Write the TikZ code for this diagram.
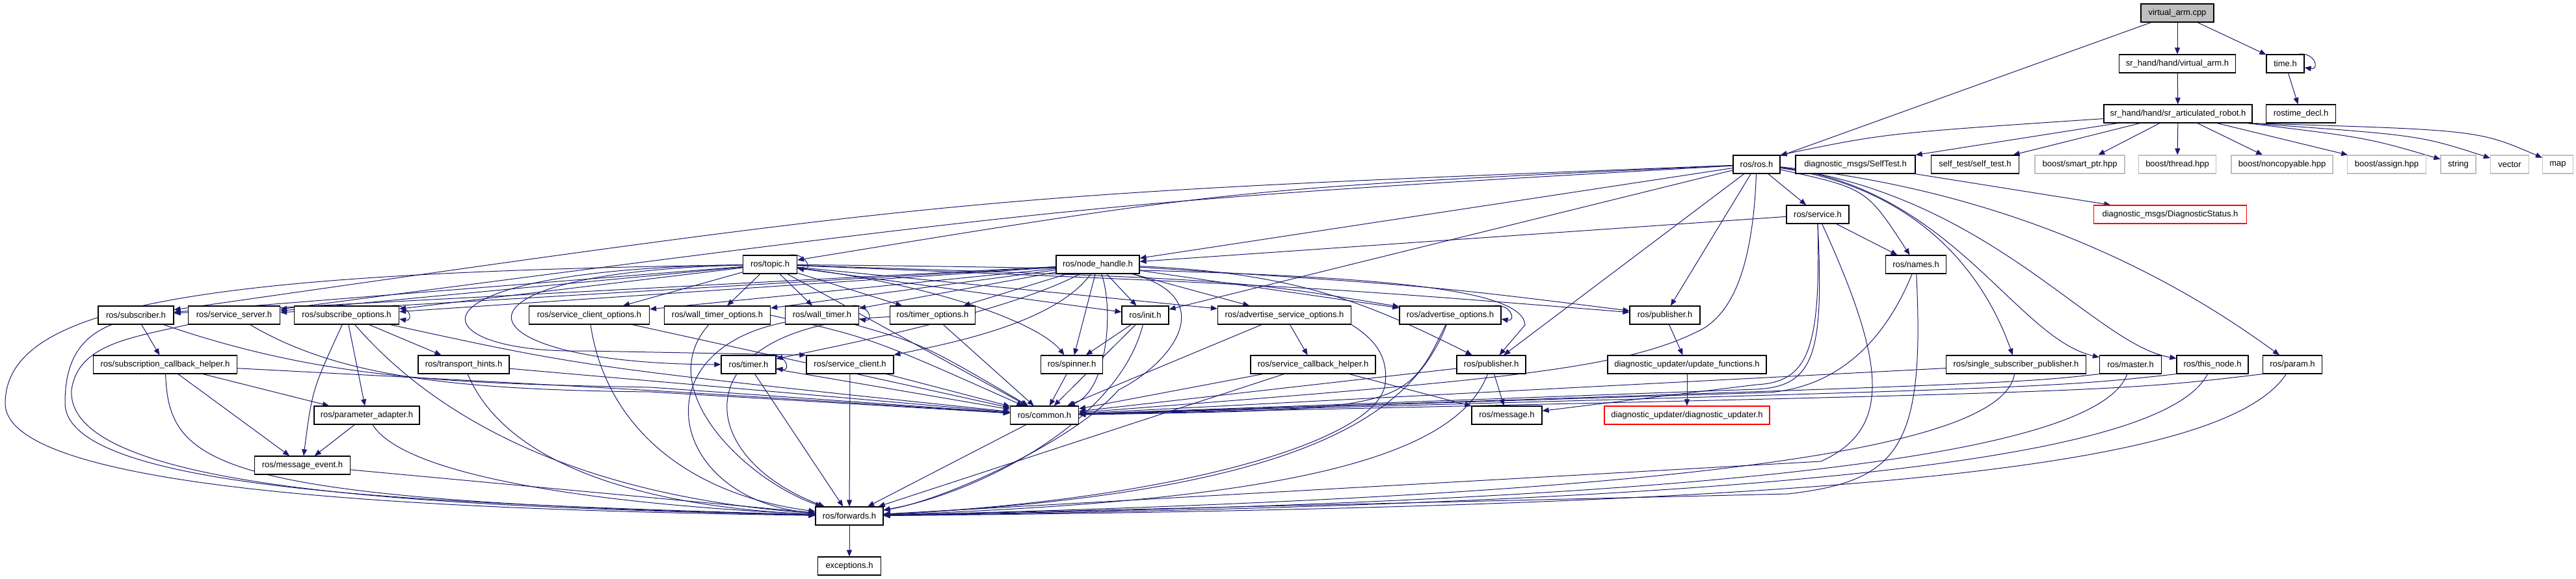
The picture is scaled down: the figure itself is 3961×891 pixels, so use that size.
\documentclass[tikz,border=0pt]{standalone}
\usepackage{fontspec}
\setmainfont{Liberation Sans}
\usetikzlibrary{arrows.meta}
\pgfdeclarelayer{edges}
\pgfsetlayers{edges,main}
\definecolor{edgec}{RGB}{25,25,112}
\definecolor{boxgray}{RGB}{191,191,191}
\definecolor{lightb}{RGB}{191,191,191}
\begin{document}
\begin{tikzpicture}[x=1pt,y=-1pt,
  nb/.style={draw=black, line width=1.2pt, fill=white, minimum height=28pt, inner sep=0pt, font=\fontsize{13}{15}\selectfont},
  gb/.style={nb, draw=lightb},
  rb/.style={nb, draw=red},
  e/.style={draw=edgec, line width=1pt, -{Triangle[length=10pt,width=8pt]}},
]
\useasboundingbox (0,0) rectangle (3961,891);
% nodes
\node[nb, minimum width=112pt, fill=boxgray] (vacpp) at (3348,20) {virtual\_arm.cpp};
\node[nb, minimum width=179pt] (vah) at (3348,98) {sr\_hand/hand/virtual\_arm.h};
\node[nb, minimum width=58pt] (timeh) at (3514,98) {time.h};
\node[nb, minimum width=228pt] (sar) at (3349,175) {sr\_hand/hand/sr\_articulated\_robot.h};
\node[nb, minimum width=107pt] (rostime) at (3538,175) {rostime\_decl.h};
\node[nb, minimum width=72pt] (rosh) at (2701,253) {ros/ros.h};
\node[nb, minimum width=184pt] (stmsg) at (2853,253) {diagnostic\_msgs/SelfTest.h};
\node[nb, minimum width=135pt] (selftest) at (3037,253) {self\_test/self\_test.h};
\node[gb, minimum width=138pt] (smartptr) at (3198,253) {boost/smart\_ptr.hpp};
\node[gb, minimum width=119pt] (thread) at (3348,253) {boost/thread.hpp};
\node[gb, minimum width=156pt] (noncopy) at (3509,253) {boost/noncopyable.hpp};
\node[gb, minimum width=121pt] (assign) at (3670,253) {boost/assign.hpp};
\node[gb, minimum width=54pt] (string) at (3780,253) {string};
\node[gb, minimum width=59pt] (vector) at (3859,253) {vector};
\node[gb, minimum width=47pt] (map) at (3933,253) {map};
\node[nb, minimum width=96pt] (service) at (2795,330) {ros/service.h};
\node[rb, minimum width=235pt] (diagstat) at (3337,330) {diagnostic\_msgs/DiagnosticStatus.h};
\node[nb, minimum width=83pt] (topic) at (1184,407) {ros/topic.h};
\node[nb, minimum width=128pt] (nh) at (1688,407) {ros/node\_handle.h};
\node[nb, minimum width=93pt] (names) at (2946,407) {ros/names.h};
\node[nb, minimum width=116pt] (subscriber) at (209,485) {ros/subscriber.h};
\node[nb, minimum width=141pt] (servserver) at (360,485) {ros/service\_server.h};
\node[nb, minimum width=161pt] (subopts) at (533,485) {ros/subscribe\_options.h};
\node[nb, minimum width=185pt] (scopts) at (906,485) {ros/service\_client\_options.h};
\node[nb, minimum width=163pt] (wtopts) at (1103,485) {ros/wall\_timer\_options.h};
\node[nb, minimum width=113pt] (walltimer) at (1264,485) {ros/wall\_timer.h};
\node[nb, minimum width=131pt] (topts) at (1434,485) {ros/timer\_options.h};
\node[nb, minimum width=72pt] (init) at (1761,485) {ros/init.h};
\node[nb, minimum width=205pt] (asopts) at (1975,485) {ros/advertise\_service\_options.h};
\node[nb, minimum width=156pt] (aopts) at (2230,485) {ros/advertise\_options.h};
\node[nb, minimum width=108pt] (pubup) at (2560,485) {ros/publisher.h};
\node[nb, minimum width=221pt] (sch) at (254,561) {ros/subscription\_callback\_helper.h};
\node[nb, minimum width=140pt] (thints) at (713,561) {ros/transport\_hints.h};
\node[nb, minimum width=84pt] (timer) at (1151,561) {ros/timer.h};
\node[nb, minimum width=134pt] (sclient) at (1307,561) {ros/service\_client.h};
\node[nb, minimum width=95pt] (spinner) at (1648,561) {ros/spinner.h};
\node[nb, minimum width=192pt] (svcch) at (2019,561) {ros/service\_callback\_helper.h};
\node[nb, minimum width=106pt] (publow) at (2293,561) {ros/publisher.h};
\node[nb, minimum width=244pt] (updfn) at (2594,561) {diagnostic\_updater/update\_functions.h};
\node[nb, minimum width=215pt] (ssp) at (3100,561) {ros/single\_subscriber\_publisher.h};
\node[nb, minimum width=95pt] (master) at (3276,561) {ros/master.h};
\node[nb, minimum width=110pt] (thisnode) at (3402,561) {ros/this\_node.h};
\node[nb, minimum width=91pt] (param) at (3525,561) {ros/param.h};
\node[nb, minimum width=162pt] (padapter) at (564,639) {ros/parameter\_adapter.h};
\node[nb, minimum width=105pt] (common) at (1606,639) {ros/common.h};
\node[nb, minimum width=108pt] (message) at (2317,639) {ros/message.h};
\node[rb, minimum width=254pt] (diagupd) at (2594,639) {diagnostic\_updater/diagnostic\_updater.h};
\node[nb, minimum width=147pt] (msgevent) at (465,716) {ros/message\_event.h};
\node[nb, minimum width=104pt] (forwards) at (1306,794) {ros/forwards.h};
\node[nb, minimum width=97pt] (exceptions) at (1306,871) {exceptions.h};

\begin{pgfonlayer}{edges}
\fill[white] (0,0) rectangle (3961,891);
% top part
\draw[e] (vacpp) -- (rosh);
\draw[e] (vacpp) -- (vah);
\draw[e] (vacpp) -- (timeh);
\draw[e] (vah) -- (sar);
\draw[e] ([xshift=-10pt]timeh.north east) .. controls +(26,-4) and +(24,4) .. ([yshift=-6pt]timeh.east);
\draw[e] (timeh) -- (rostime);
\draw[e] (sar) .. controls (2900,205) .. (rosh.north east);
\draw[e] (sar) -- (stmsg);
\draw[e] (sar) -- (selftest);
\draw[e] (sar) -- (smartptr);
\draw[e] (sar) -- (thread);
\draw[e] (sar) -- (noncopy);
\draw[e] (sar) -- (assign);
\draw[e] ([xshift=-8pt]sar.south east) .. controls (3640,212) .. (string);
\draw[e] ([xshift=-6pt]sar.south east) .. controls (3720,208) .. (vector);
\draw[e] ([xshift=-4pt]sar.south east) .. controls (3810,200) .. (map);
\draw[e] (stmsg) -- (diagstat);
% ros.h
\draw[e] (rosh) .. controls (1900,290) .. (topic);
\draw[e] (rosh) .. controls (1500,300) .. (subscriber);
\draw[e] (rosh) .. controls (1700,310) .. (servserver);
\draw[e] (rosh) -- (nh);
\draw[e] (rosh) -- (init);
\draw[e] (rosh) -- (pubup);
\draw[e] (rosh) -- (publow);
\draw[e] (rosh) .. controls (2695,420) and (2660,480) .. (2620,505) .. controls (2500,570) and (2300,585) .. (common);
\draw[e] (rosh) -- (service);
\draw[e] (rosh) .. controls (2870,290) .. (names);
\draw[e] (rosh) .. controls (2950,290) and (3050,420) .. (ssp);
\draw[e] (rosh) .. controls (3000,290) and (3100,520) .. (master);
\draw[e] (rosh) .. controls (3060,300) and (3220,530) .. (thisnode);
\draw[e] (rosh) .. controls (3150,300) and (3400,470) .. (param);
% service.h
\draw[e] (service) -- (nh);
\draw[e] (service) -- (names);
\draw[e] (service.south) .. controls (2800,540) and (2780,588) .. (2700,592) -- (message);
\draw[e] (service.south) .. controls (2805,545) and (2790,595) .. (2700,599) -- (common);
\draw[e] (service) .. controls (2900,560) and (2910,660) .. (2800,710) -- (forwards);
% names.h
\draw[e] (names) .. controls (2900,520) and (2830,595) .. (2720,604) -- (common);
\draw[e] (names) .. controls (2960,690) and (2920,740) .. (2750,760) -- (forwards);
% subscriber.h
\draw[e] (subscriber) -- (sch);
\draw[e] (subscriber) .. controls (500,585) and (700,590) .. (1000,596) -- (common);
\draw[e] (subscriber) .. controls (120,520) and (100,560) .. (100,620) .. controls (100,760) and (700,775) .. (forwards);
% service_server.h
\draw[e] (servserver.south west) .. controls (200,520) and (120,530) .. (110,600) .. controls (100,760) and (700,780) .. (forwards);
\draw[e] (servserver) .. controls (520,580) and (700,600) .. (1000,603) -- (common);
% subscribe_options.h
\draw[e] ([xshift=-12pt]subopts.north east) .. controls +(26,-4) and +(24,4) .. ([yshift=-6pt]subopts.east);
\draw[e] (subopts) .. controls (480,600) .. (msgevent);
\draw[e] (subopts) -- (padapter);
\draw[e] (subopts) .. controls (650,620) and (850,760) .. (forwards);
\draw[e] (subopts) -- (thints);
\draw[e] (subopts) .. controls (900,565) .. (common);
% subscription_callback_helper.h
\draw[e] (sch) -- (padapter);
\draw[e] (sch) -- (msgevent);
\draw[e] (sch) .. controls (260,720) and (330,770) .. (forwards);
\draw[e] (sch) .. controls (1000,600) .. (common);
% transport_hints.h
\draw[e] (thints) -- (common);
\draw[e] (thints) .. controls (780,720) and (1000,780) .. (forwards);
% parameter_adapter.h, message_event.h
\draw[e] (padapter) -- (msgevent);
\draw[e] (padapter) .. controls (620,730) and (900,775) .. (forwards);
\draw[e] (msgevent) -- (forwards);
% service_client_options.h
\draw[e] (scopts) .. controls (930,650) and (1050,760) .. (forwards);
\draw[e] (scopts) -- (common);
% wall_timer_options.h
\draw[e] (wtopts) .. controls (1000,600) and (1150,740) .. (forwards);
\draw[e] (wtopts.east) .. controls (1340,520) .. (common);
% wall_timer.h
\draw[e] ([xshift=-12pt]walltimer.north east) .. controls +(26,-4) and +(24,4) .. ([yshift=-6pt]walltimer.east);
\draw[e] (walltimer) .. controls (980,540) and (1030,770) .. (forwards);
\draw[e] (walltimer) .. controls (1420,530) .. (common);
% timer_options.h
\draw[e] (topts) .. controls (1050,500) and (1060,700) .. (forwards);
\draw[e] (topts) -- (common);
% init.h
\draw[e] (init) -- (spinner);
\draw[e] (init) -- (common);
\draw[e] (init) .. controls (1720,650) and (1500,760) .. (forwards);
% advertise_service_options.h
\draw[e] (asopts) -- (svcch);
\draw[e] (asopts) -- (common);
\draw[e] (asopts.south east) .. controls (2110,520) and (2135,545) .. (2130,590) .. controls (2120,680) and (1800,770) .. (forwards);
% service_callback_helper.h
\draw[e] (svcch) -- (message);
\draw[e] (svcch) -- (common);
\draw[e] (svcch) -- (forwards);
% advertise_options.h
\draw[e] ([xshift=-12pt]aopts.north east) .. controls +(26,-4) and +(24,4) .. ([yshift=-6pt]aopts.east);
\draw[e] (aopts) .. controls (2160,630) .. (common);
\draw[e] (aopts) .. controls (2170,640) and (2000,760) .. (forwards);
% publisher.h (lower)
\draw[e] (publow) -- (message);
\draw[e] (publow) -- (common);
\draw[e] (publow) .. controls (2240,700) and (2000,770) .. (forwards);
% publisher.h (upper)
\draw[e] (pubup) -- (updfn);
\draw[e] (updfn) -- (diagupd);
% right group
\draw[e] (ssp) -- (common);
\draw[e] (ssp) .. controls (3080,680) and (2700,760) .. (forwards);
\draw[e] (master.south west) .. controls (3100,590) .. (common);
\draw[e] (master) .. controls (3230,690) and (2750,770) .. (forwards);
\draw[e] (thisnode.south west) .. controls (3150,597) .. (common);
\draw[e] (thisnode) .. controls (3330,700) and (2800,775) .. (forwards);
\draw[e] (param.south west) .. controls (3250,603) .. (common);
\draw[e] (param) .. controls (3420,720) and (2850,780) .. (forwards);
% bottom
\draw[e] (common) -- (forwards);
\draw[e] (forwards) -- (exceptions);
% timer.h, service_client.h, spinner.h
\draw[e] ([xshift=-12pt]timer.north east) .. controls +(26,-4) and +(24,4) .. ([yshift=-6pt]timer.east);
\draw[e] (timer) -- (common);
\draw[e] (timer) -- (forwards);
\draw[e] (sclient) -- (forwards);
\draw[e] (sclient) -- (common);
\draw[e] (spinner) -- (common);
% topic.h
\draw[e] ([xshift=-12pt]topic.north east) .. controls +(26,-4) and +(24,4) .. ([yshift=-6pt]topic.east);
\draw[e] (topic) -- (subscriber);
\draw[e] (topic) -- (servserver);
\draw[e] (topic) -- (subopts);
\draw[e] (topic) -- (scopts);
\draw[e] (topic) -- (wtopts);
\draw[e] (topic) -- (walltimer);
\draw[e] (topic) -- (topts);
\draw[e] (topic) -- (init);
\draw[e] (topic) -- (asopts);
\draw[e] (topic) .. controls (1900,430) .. (aopts);
\draw[e] (topic) .. controls (2000,440) .. (pubup);
\draw[e] (topic) .. controls (2000,415) and (2340,430) .. (2345,500) -- (publow);
\draw[e] (topic) .. controls (1450,440) and (1600,500) .. (spinner);
\draw[e] (topic) .. controls (650,420) and (700,560) .. (timer);
\draw[e] (topic) .. controls (600,415) and (640,545) .. (900,540) -- (sclient.north west);
\draw[e] (topic) -- (common);
\draw[e] (topic) .. controls (300,420) and (10,470) .. (8,620) .. controls (6,760) and (700,785) .. (forwards);
% node_handle.h
\draw[e] (nh) -- (subscriber);
\draw[e] (nh) -- (servserver);
\draw[e] (nh) -- (subopts);
\draw[e] (nh) -- (scopts);
\draw[e] (nh) -- (wtopts);
\draw[e] (nh) -- (walltimer);
\draw[e] (nh) -- (topts);
\draw[e] (nh) -- (init);
\draw[e] (nh) -- (asopts);
\draw[e] (nh) -- (aopts);
\draw[e] (nh) .. controls (2200,440) .. (pubup);
\draw[e] (nh) .. controls (2000,420) and (2110,470) .. (publow);
\draw[e] (nh) -- (spinner);
\draw[e] (nh) .. controls (1550,480) and (1300,530) .. (timer);
\draw[e] (nh) .. controls (1620,500) and (1450,530) .. (sclient);
\draw[e] (nh) .. controls (1712,470) and (1705,600) .. (common);
\draw[e] (nh) .. controls (1880,460) and (1800,560) .. (1720,600) .. controls (1650,680) and (1450,770) .. (forwards);
\end{pgfonlayer}
\end{tikzpicture}
\end{document}
